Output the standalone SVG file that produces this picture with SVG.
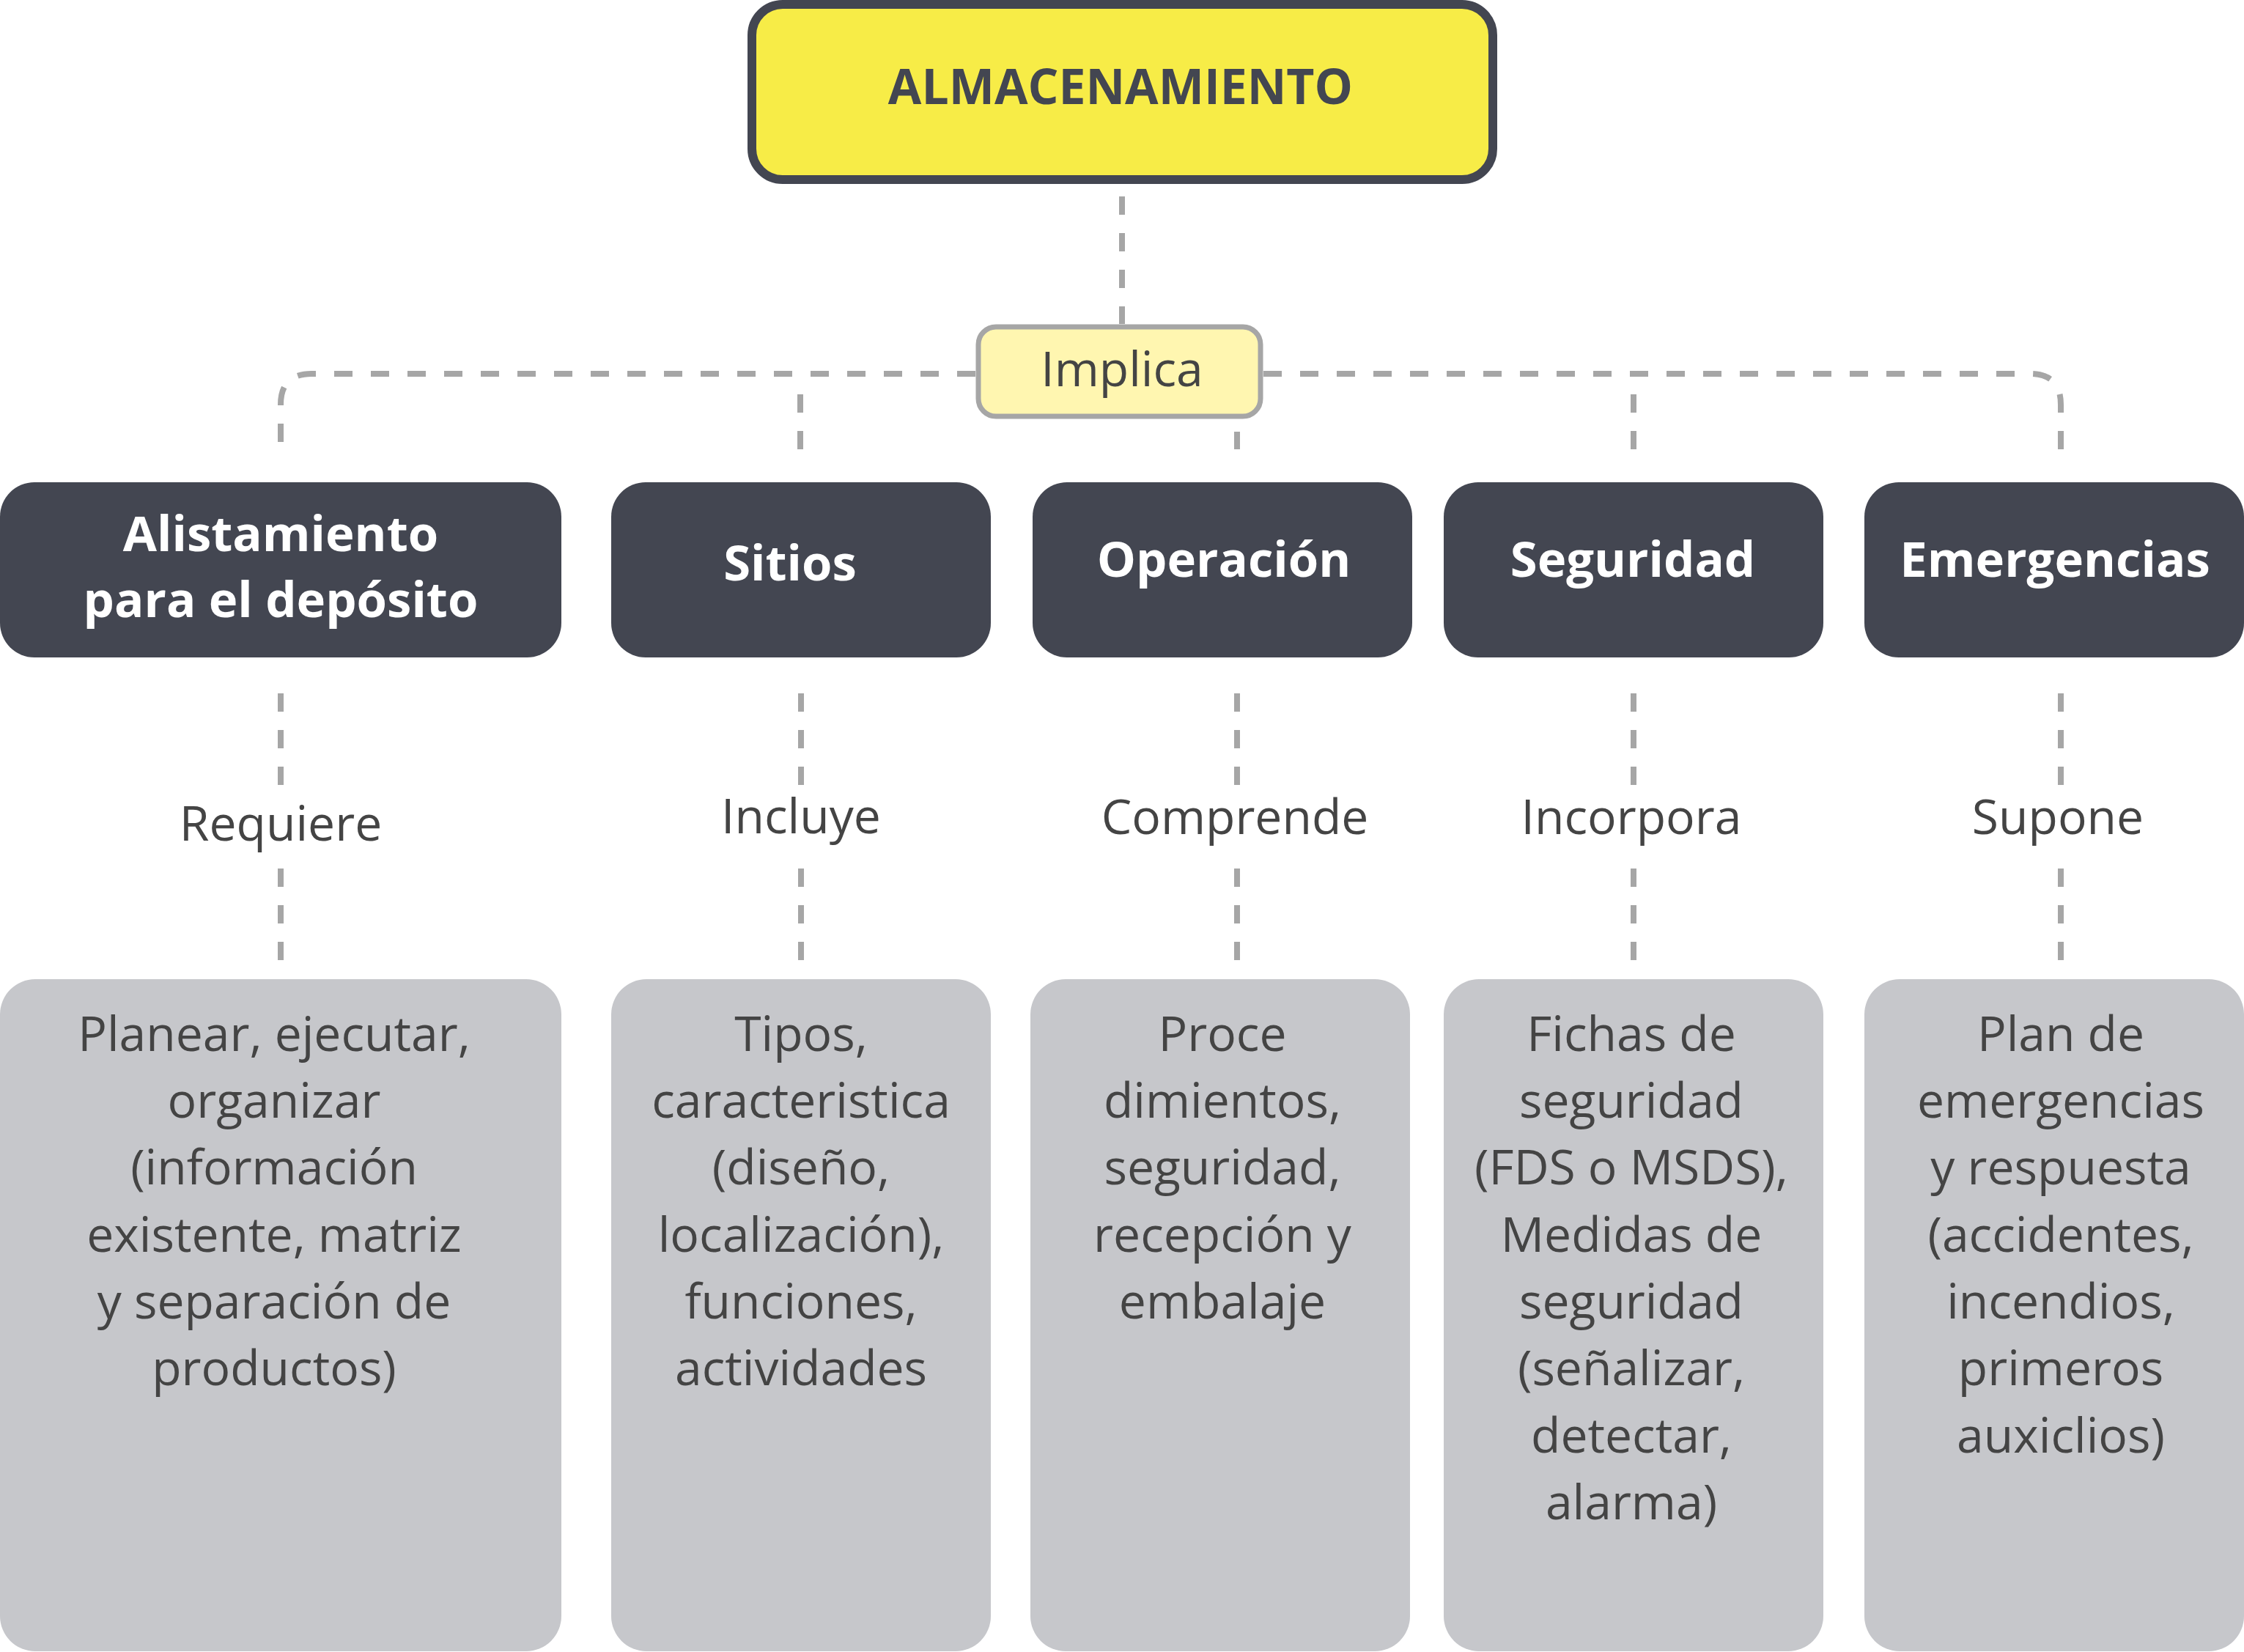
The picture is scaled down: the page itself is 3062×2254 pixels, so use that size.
<svg xmlns="http://www.w3.org/2000/svg" width="3062" height="2254" viewBox="0 0 3062 2254">
<style>
.bg{fill:#ffffff}
.conn{fill:none;stroke:#A6A6A6;stroke-width:8;stroke-dasharray:25 25}
.top{fill:#F7EC47;stroke:#434651;stroke-width:12}
.imp{fill:#FFF6B0;stroke:#A6A6A6;stroke-width:7}
.dark{fill:#434651}
.light{fill:#C6C7CB}
.t-title{font-family:"Open Sans","Liberation Sans",sans-serif;font-weight:700;font-size:66px;fill:#434651;text-anchor:middle}
.t-head{font-family:"Open Sans","Liberation Sans",sans-serif;font-weight:700;font-size:67px;fill:#ffffff;text-anchor:middle}
.t-reg{font-family:"Open Sans","Liberation Sans",sans-serif;font-weight:400;font-size:66px;fill:#444444;text-anchor:middle}
</style>
<rect class="bg" x="0" y="0" width="3062" height="2254"/>
<g id="connectors">
  <line class="conn" x1="1531" y1="268" x2="1531" y2="442"/>
  <path class="conn" d="M 1331 510 H 425 Q 383 510 383 552 V 627"/>
  <path class="conn" d="M 1724 510 H 2770 Q 2812 510 2812 552 V 620"/>
  <line class="conn" x1="1092" y1="538" x2="1092" y2="613"/>
  <line class="conn" x1="1688" y1="589" x2="1688" y2="613"/>
  <line class="conn" x1="2229" y1="538" x2="2229" y2="613"/>
  <line class="conn" x1="383" y1="946" x2="383" y2="1071"/>
  <line class="conn" x1="383" y1="1185" x2="383" y2="1310"/>
  <line class="conn" x1="1093" y1="946" x2="1093" y2="1071"/>
  <line class="conn" x1="1093" y1="1185" x2="1093" y2="1310"/>
  <line class="conn" x1="1688" y1="946" x2="1688" y2="1071"/>
  <line class="conn" x1="1688" y1="1185" x2="1688" y2="1310"/>
  <line class="conn" x1="2229" y1="946" x2="2229" y2="1071"/>
  <line class="conn" x1="2229" y1="1185" x2="2229" y2="1310"/>
  <line class="conn" x1="2812" y1="946" x2="2812" y2="1071"/>
  <line class="conn" x1="2812" y1="1185" x2="2812" y2="1310"/>
</g>
<g id="node-almacenamiento">
  <rect class="top" x="1026" y="6" width="1011" height="239" rx="42" ry="42"/>
  <text class="t-title" x="1529" y="142">ALMACENAMIENTO</text>
</g>
<g id="node-implica">
  <rect class="imp" x="1335" y="446" width="385" height="122" rx="24" ry="24"/>
  <text class="t-reg" x="1531" y="527">Implica</text>
</g>
<g id="node-alistamiento">
  <rect class="dark" x="0" y="658" width="766" height="239" rx="47" ry="47"/>
  <text class="t-head" x="383" y="752">Alistamiento</text>
  <text class="t-head" x="383" y="842">para el depósito</text>
</g>
<g id="node-sitios">
  <rect class="dark" x="834" y="658" width="518" height="239" rx="47" ry="47"/>
  <text class="t-head" x="1078" y="792">Sitios</text>
</g>
<g id="node-operacion">
  <rect class="dark" x="1409" y="658" width="518" height="239" rx="47" ry="47"/>
  <text class="t-head" x="1670" y="787">Operación</text>
</g>
<g id="node-seguridad">
  <rect class="dark" x="1970" y="658" width="518" height="239" rx="47" ry="47"/>
  <text class="t-head" x="2228" y="787">Seguridad</text>
</g>
<g id="node-emergencias">
  <rect class="dark" x="2544" y="658" width="518" height="239" rx="47" ry="47"/>
  <text class="t-head" x="2804" y="787">Emergencias</text>
</g>
<g id="label-requiere"><text class="t-reg" x="383" y="1147">Requiere</text></g>
<g id="label-incluye"><text class="t-reg" x="1093" y="1137">Incluye</text></g>
<g id="label-comprende"><text class="t-reg" x="1685" y="1138">Comprende</text></g>
<g id="label-incorpora"><text class="t-reg" x="2226" y="1138">Incorpora</text></g>
<g id="label-supone"><text class="t-reg" x="2808" y="1138">Supone</text></g>
<g id="content-alistamiento">
  <rect class="light" x="0" y="1336" width="766" height="917" rx="48" ry="48"/>
  <text class="t-reg" x="374" y="1434">Planear, ejecutar,</text>
  <text class="t-reg" x="374" y="1525">organizar</text>
  <text class="t-reg" x="374" y="1616">(información</text>
  <text class="t-reg" x="374" y="1708">existente, matriz</text>
  <text class="t-reg" x="374" y="1799">y separación de</text>
  <text class="t-reg" x="374" y="1890">productos)</text>
</g>
<g id="content-sitios">
  <rect class="light" x="834" y="1336" width="518" height="917" rx="48" ry="48"/>
  <text class="t-reg" x="1093" y="1434">Tipos,</text>
  <text class="t-reg" x="1093" y="1525">caracteristica</text>
  <text class="t-reg" x="1093" y="1616">(diseño,</text>
  <text class="t-reg" x="1093" y="1708">localización),</text>
  <text class="t-reg" x="1093" y="1799">funciones,</text>
  <text class="t-reg" x="1093" y="1890">actividades</text>
</g>
<g id="content-operacion">
  <rect class="light" x="1406" y="1336" width="518" height="917" rx="48" ry="48"/>
  <text class="t-reg" x="1668" y="1434">Proce</text>
  <text class="t-reg" x="1668" y="1525">dimientos,</text>
  <text class="t-reg" x="1668" y="1616">seguridad,</text>
  <text class="t-reg" x="1668" y="1708">recepción y</text>
  <text class="t-reg" x="1668" y="1799">embalaje</text>
</g>
<g id="content-seguridad">
  <rect class="light" x="1970" y="1336" width="518" height="917" rx="48" ry="48"/>
  <text class="t-reg" x="2226" y="1434">Fichas de</text>
  <text class="t-reg" x="2226" y="1525">seguridad</text>
  <text class="t-reg" x="2226" y="1616">(FDS o MSDS),</text>
  <text class="t-reg" x="2226" y="1708">Medidas de</text>
  <text class="t-reg" x="2226" y="1799">seguridad</text>
  <text class="t-reg" x="2226" y="1890">(señalizar,</text>
  <text class="t-reg" x="2226" y="1982">detectar,</text>
  <text class="t-reg" x="2226" y="2073">alarma)</text>
</g>
<g id="content-emergencias">
  <rect class="light" x="2544" y="1336" width="518" height="917" rx="48" ry="48"/>
  <text class="t-reg" x="2812" y="1434">Plan de</text>
  <text class="t-reg" x="2812" y="1525">emergencias</text>
  <text class="t-reg" x="2812" y="1616">y respuesta</text>
  <text class="t-reg" x="2812" y="1708">(accidentes,</text>
  <text class="t-reg" x="2812" y="1799">incendios,</text>
  <text class="t-reg" x="2812" y="1890">primeros</text>
  <text class="t-reg" x="2812" y="1982">auxiclios)</text>
</g>
</svg>
